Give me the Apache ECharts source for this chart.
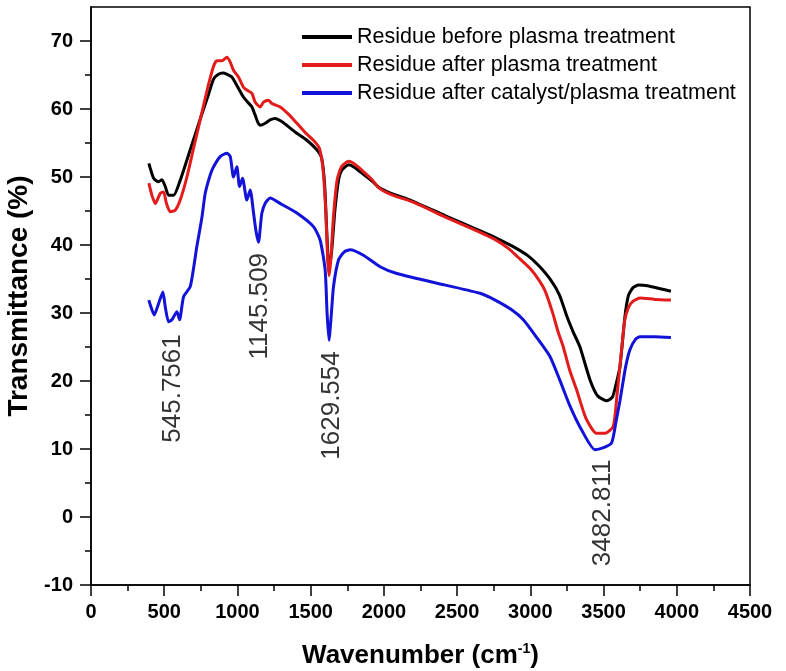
<!DOCTYPE html>
<html>
<head>
<meta charset="utf-8">
<script src="https://cdn.jsdelivr.net/npm/echarts@6/dist/echarts.min.js"></script>
<style>html,body{margin:0;padding:0;background:#fff;}#c{width:786px;height:671px;}</style>
</head>
<body>
<div id="c"></div>
<script>
const seriesNames = ['Residue before plasma treatment', 'Residue after plasma treatment', 'Residue after catalyst/plasma treatment'];
const xTicks = [0, 500, 1000, 1500, 2000, 2500, 3000, 3500, 4000, 4500];
const yTicks = [-10, 0, 10, 20, 30, 40, 50, 60, 70];

const beforePlasma = [
[395,52.0],[428,49.8],[461,49.3],[484,49.6],[507,48.6],[530,47.3],[564,47.3],[609,49.5],[655,52.5],[700,55.5],[750,58.8],[800,62.0],[837,64.4],[870,65.1],[900,65.3],[930,65.1],[962,64.7],[1000,63.3],[1040,61.8],[1070,61.0],[1099,60.3],[1121,59.1],[1140,58.0],[1155,57.6],[1190,57.9],[1223,58.4],[1258,58.6],[1300,58.2],[1337,57.6],[1400,56.5],[1474,55.4],[1542,54.0],[1575,52.8],[1595,49.0],[1610,42.0],[1620,37.5],[1628,36.8],[1645,39.5],[1665,45.0],[1690,49.5],[1713,51.0],[1760,51.8],[1800,51.4],[1860,50.4],[1920,49.4],[1965,48.5],[2050,47.6],[2191,46.5],[2420,44.3],[2645,42.2],[2760,41.1],[2880,39.8],[2985,38.4],[3060,36.9],[3141,34.8],[3200,32.6],[3248,29.6],[3293,27.2],[3339,25.0],[3407,20.2],[3460,17.8],[3521,17.1],[3560,17.6],[3585,19.5],[3612,22.1],[3646,29.5],[3670,32.6],[3700,33.7],[3740,34.1],[3800,34.0],[3880,33.6],[3960,33.2]
];
const afterPlasma = [
[395,49.1],[416,47.3],[439,46.1],[473,47.6],[496,47.8],[514,46.2],[541,44.9],[575,45.1],[609,46.6],[655,50.0],[700,54.2],[750,58.8],[800,63.4],[837,66.3],[860,67.1],[894,67.1],[928,67.6],[951,66.9],[973,65.7],[1007,64.7],[1041,63.2],[1064,62.8],[1099,62.3],[1121,61.0],[1155,60.3],[1178,61.0],[1212,61.3],[1235,60.8],[1292,60.3],[1350,59.2],[1406,57.9],[1460,56.6],[1519,55.4],[1560,54.2],[1585,51.0],[1603,45.0],[1616,38.0],[1626,35.5],[1638,38.0],[1655,44.0],[1680,49.5],[1710,51.5],[1760,52.3],[1800,51.9],[1860,50.8],[1920,49.6],[1965,48.4],[2050,47.4],[2200,46.3],[2420,44.1],[2600,42.4],[2760,40.8],[2850,39.5],[2916,38.2],[3000,36.5],[3060,34.8],[3100,33.3],[3150,30.2],[3190,27.2],[3225,25.0],[3270,21.5],[3316,18.7],[3380,14.5],[3452,12.3],[3510,12.3],[3566,13.3],[3590,17.5],[3623,24.6],[3645,29.0],[3670,30.8],[3700,31.7],[3750,32.2],[3850,32.0],[3960,31.9]
];
const afterCatalyst = [
[395,31.9],[432,29.7],[460,31.3],[491,33.1],[507,30.9],[530,28.7],[552,29.0],[587,30.2],[605,29.0],[632,32.4],[678,33.9],[723,39.8],[757,44.0],[780,47.6],[814,50.3],[837,51.5],[882,53.0],[928,53.5],[951,53.0],[973,50.0],[996,51.5],[1014,48.6],[1035,49.8],[1064,46.6],[1087,48.1],[1110,44.7],[1127,42.0],[1144,40.4],[1158,43.0],[1167,44.7],[1189,46.1],[1223,46.9],[1300,46.0],[1406,44.7],[1519,42.7],[1565,40.7],[1599,36.3],[1612,30.0],[1625,26.0],[1640,29.5],[1656,33.9],[1690,37.8],[1730,39.0],[1769,39.3],[1860,38.5],[1974,36.8],[2088,35.8],[2420,34.1],[2656,32.9],[2760,31.9],[2870,30.5],[2952,29.0],[3040,26.5],[3134,23.6],[3200,20.2],[3271,16.3],[3350,12.8],[3441,9.9],[3500,10.2],[3555,10.9],[3585,14.0],[3612,17.1],[3650,22.0],[3680,24.6],[3720,26.2],[3748,26.5],[3850,26.5],[3960,26.4]
];
const peakLabels = ['545.7561', '1145.509', '1629.554', '3482.811'];
const peakLabelPos = [[561, 18.9], [1155, 31.0], [1646, 16.4], [3497, 0.6]];

const FONT = '"Liberation Sans", Arial, Helvetica, sans-serif';
const colors = ['#000000', '#e31b1b', '#1212d8'];
const chart = echarts.init(document.getElementById('c'), null, {renderer: 'canvas'});

const lineSeries = [beforePlasma, afterPlasma, afterCatalyst].map((d, i) => ({
  name: seriesNames[i],
  type: 'line',
  data: d,
  symbol: 'none',
  smooth: 0.2,
  lineStyle: {color: colors[i], width: 3},
  itemStyle: {color: colors[i]},
  z: 2 + i,
  silent: true
}));

chart.setOption({
  animation: false,
  backgroundColor: '#fff',
  grid: {left: 91, right: 36, top: 7, bottom: 86, show: true, borderColor: '#000', borderWidth: 1.5, backgroundColor: 'transparent', containLabel: false, outerBoundsMode: 'none'},
  legend: {
    orient: 'vertical', left: 297, top: 21, itemGap: 6,
    icon: 'rect', itemWidth: 50, itemHeight: 4,
    data: seriesNames,
    textStyle: {fontFamily: FONT, fontSize: 21.5, color: '#000'},
    selectedMode: false
  },
  xAxis: {
    type: 'value', min: xTicks[0], max: xTicks[xTicks.length - 1], interval: 500,
    name: 'Wavenumber (cm{sup|-1})', nameLocation: 'middle', nameGap: 57,
    nameTextStyle: {fontFamily: FONT, fontSize: 26, fontWeight: 'bold', color: '#000',
      rich: {sup: {fontFamily: FONT, fontSize: 14, fontWeight: 'bold', color: '#000', verticalAlign: 'top', padding: [0, 0, 14, 0]}}},
    axisLine: {show: true, onZero: false, lineStyle: {color: '#000', width: 1.5}},
    axisTick: {show: true, inside: false, length: 11, lineStyle: {color: '#000', width: 1.5}},
    minorTick: {show: true, splitNumber: 2, length: 6, lineStyle: {color: '#000', width: 1.5}},
    axisLabel: {fontFamily: FONT, fontSize: 20, fontWeight: 'bold', color: '#000', margin: 17, formatter: v => String(v)},
    splitLine: {show: false}
  },
  yAxis: {
    type: 'value', min: -10, max: 75, interval: 10,
    name: 'Transmittance (%)', nameLocation: 'middle', nameGap: 45, nameRotate: 90,
    nameTextStyle: {fontFamily: FONT, fontSize: 28, fontWeight: 'bold', color: '#000'},
    axisLine: {show: true, onZero: false, lineStyle: {color: '#000', width: 1.5}},
    axisTick: {show: true, inside: false, length: 11, customValues: yTicks, lineStyle: {color: '#000', width: 1.5}},
    minorTick: {show: true, splitNumber: 2, length: 6, lineStyle: {color: '#000', width: 1.5}},
    axisLabel: {fontFamily: FONT, fontSize: 20, fontWeight: 'bold', color: '#000', margin: 18, customValues: yTicks, formatter: v => String(v)},
    splitLine: {show: false}
  },
  series: lineSeries.concat([{
    name: 'peaks',
    type: 'scatter',
    symbolSize: 0,
    silent: true,
    z: 10,
    data: peakLabels.map((t, i) => ({name: t, value: peakLabelPos[i]})),
    label: {show: true, position: 'inside', rotate: 90, formatter: p => p.name,
      fontFamily: FONT, fontSize: 26, color: '#000'}
  }])
});
</script>
</body>
</html>
